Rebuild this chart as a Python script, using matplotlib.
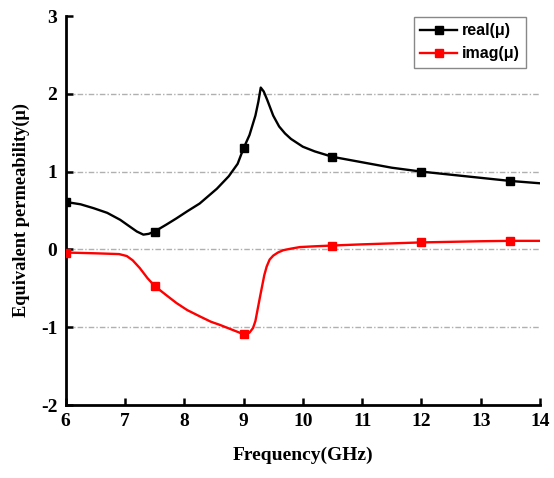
import matplotlib
matplotlib.use("Agg")
import matplotlib.pyplot as plt

plt.rcParams['axes.unicode_minus'] = False

freq_real = [6.0, 6.25, 6.47, 6.7, 6.92, 7.05, 7.2, 7.31, 7.4, 7.5, 7.7, 7.87, 8.05, 8.26, 8.55,
             8.75, 8.9, 9.0, 9.1, 9.2, 9.25, 9.29, 9.34, 9.4, 9.5, 9.6, 9.7, 9.8, 9.9, 10.0,
             10.2, 10.5, 11.0, 11.5, 12.0, 12.5, 13.0, 13.5, 14.0]
real_mu = [0.61, 0.58, 0.53, 0.47, 0.38, 0.31, 0.23, 0.19, 0.20, 0.23, 0.32, 0.40, 0.49, 0.59, 0.78,
           0.94, 1.10, 1.30, 1.47, 1.72, 1.90, 2.08, 2.03, 1.92, 1.72, 1.58, 1.49, 1.42, 1.37, 1.32,
           1.26, 1.19, 1.12, 1.05, 1.00, 0.96, 0.92, 0.88, 0.85]

freq_imag = [6.0, 6.5, 6.9, 7.03, 7.13, 7.25, 7.38, 7.5, 7.7, 7.87, 8.05, 8.26, 8.45, 8.6, 8.8,
             9.0, 9.1, 9.16, 9.2, 9.28, 9.35, 9.39, 9.44, 9.5, 9.58, 9.67, 9.8, 9.95, 10.2,
             10.5, 11.0, 12.0, 13.0, 13.5, 14.0]
imag_mu = [-0.04, -0.05, -0.06, -0.085, -0.14, -0.24, -0.37, -0.47, -0.59, -0.69, -0.78, -0.86, -0.93, -0.97, -1.03,
           -1.09, -1.07, -1.01, -0.92, -0.60, -0.33, -0.22, -0.13, -0.08, -0.04, -0.01, 0.01, 0.03, 0.04,
           0.05, 0.065, 0.09, 0.105, 0.11, 0.11]

marker_freqs = [6.0, 7.5, 9.0, 10.5, 12.0, 13.5]

xticks = [6, 7, 8, 9, 10, 11, 12, 13, 14]
yticks = [-2, -1, 0, 1, 2, 3]

serif = ['Liberation Serif', 'DejaVu Serif']
sans = ['Liberation Sans', 'DejaVu Sans']

fig = plt.figure(figsize=(5.54, 4.78), dpi=100)
ax = fig.add_axes([0.1186, 0.1527, 0.8561, 0.8138])

for y in [-1, 0, 1, 2]:
    ax.axhline(y, color='#b0b0b0', lw=1.0, ls=(0, (4, 1.5, 1, 1.5)), zorder=0)

def idx(fr):
    return [fr.index(m) for m in marker_freqs]

ax.plot(freq_real, real_mu, color='black', lw=1.7, marker='s', ms=5.5,
        markevery=idx(freq_real), label='real(μ)', zorder=3)
ax.plot(freq_imag, imag_mu, color='red', lw=1.7, marker='s', ms=5.5,
        markevery=idx(freq_imag), label='imag(μ)', zorder=3)

ax.set_xlim(6, 14)
ax.set_ylim(-2, 3)
ax.set_xticks(xticks)
ax.set_yticks(yticks)
ax.set_xticklabels([str(t) for t in xticks], fontfamily=serif, fontweight='bold', fontsize=14)
ax.set_yticklabels([str(t) for t in yticks], fontfamily=serif, fontweight='bold', fontsize=14)
ax.tick_params(direction='in', length=5, width=1.8, pad=6)

for s in ['top', 'right']:
    ax.spines[s].set_visible(False)
for s in ['left', 'bottom']:
    ax.spines[s].set_linewidth(2)

ax.set_xlabel('Frequency(GHz)', fontfamily=serif, fontweight='bold', fontsize=14, labelpad=12)
ax.set_ylabel('Equivalent permeability(μ)', fontfamily=serif, fontweight='bold', fontsize=13.2, labelpad=8)

leg = ax.legend(loc='upper right', bbox_to_anchor=(0.9705, 0.998),
                prop={'family': sans, 'weight': 'bold', 'size': 11.5},
                fancybox=False, framealpha=1, edgecolor='#888888', handlelength=2.3,
                handletextpad=0.3, borderpad=0.4, labelspacing=0.5, borderaxespad=0.0)
leg.get_frame().set_linewidth(1.0)

fig.savefig('out.png', dpi=100)
